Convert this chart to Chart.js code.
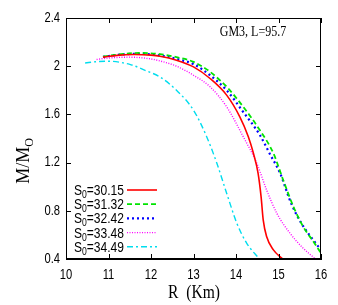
<!DOCTYPE html>
<html><head><meta charset="utf-8">
<script src="https://cdn.jsdelivr.net/npm/chart.js@4/dist/chart.umd.min.js"></script>
<style>html,body{margin:0;padding:0;background:#fff}#wrap{width:338px;height:305px}</style>
</head><body><div id="wrap"><canvas id="c" width="338" height="305"></canvas></div>
<script>
// ---- data ----
const seriesLabels = ["30.15", "31.32", "32.42", "33.48", "34.49"];
const rS3015 = [10.87,11.2,11.6,12.0,12.21,12.6,13.0,13.39,13.78,14.09,14.29,14.41,14.52,14.59,14.64,14.72,14.88,15.1];
const mS3015 = [2.075,2.09,2.097,2.092,2.083,2.05,1.994,1.898,1.76,1.58,1.415,1.277,1.111,0.918,0.725,0.586,0.476,0.40];
const rS3132 = [10.87,11.3,11.74,12.21,12.6,13.0,13.39,13.78,14.17,14.56,14.88,15.11,15.35,15.58,15.82,16.0];
const mS3132 = [2.08,2.10,2.11,2.10,2.075,2.036,1.953,1.829,1.663,1.47,1.277,1.056,0.835,0.669,0.545,0.449];
const rS3242 = [10.87,11.3,11.7,12.21,12.6,13.0,13.39,13.78,14.17,14.56,14.8,15.04,15.3,15.55,15.8,16.0];
const mS3242 = [2.078,2.097,2.103,2.09,2.06,2.017,1.925,1.80,1.62,1.43,1.27,1.11,0.86,0.69,0.565,0.476];
const rS3348 = [10.72,11.0,11.5,12.0,12.21,12.6,13.0,13.39,13.78,14.17,14.49,14.72,14.96,15.27,15.58,15.87];
const mS3348 = [2.056,2.068,2.075,2.06,2.044,2.0,1.925,1.829,1.663,1.415,1.194,0.973,0.78,0.614,0.49,0.40];
const rS3449 = [10.45,10.7,11.0,11.5,11.9,12.21,12.6,13.0,13.31,13.55,13.78,14.02,14.25,14.55];
const mS3449 = [2.027,2.037,2.041,2.015,1.96,1.911,1.80,1.635,1.415,1.194,0.946,0.697,0.532,0.40];
const xTicks = [10, 11, 12, 13, 14, 15, 16];
const yTicks = [0.4, 0.8, 1.2, 1.6, 2, 2.4];

const colors = ["#ff0000", "#00e400", "#0000ff", "#ff00ff", "#00ddee"];
const dashes = [[], [5, 3], [2, 3], [1, 1.5], [6, 3, 2, 3]];
const widths = [1.6, 1.8, 2.2, 1.4, 1.4];
const rs = [rS3015, rS3132, rS3242, rS3348, rS3449];
const ms = [mS3015, mS3132, mS3242, mS3348, mS3449];

const datasets = seriesLabels.map((lab, i) => ({
  label: "S0=" + lab,
  data: rs[i].map((r, k) => ({x: r, y: ms[i][k]})),
  borderColor: colors[i], backgroundColor: colors[i],
  borderWidth: widths[i], borderDash: dashes[i],
  pointRadius: 0, fill: false, cubicInterpolationMode: 'monotone'
}));

const SERIF = '"Liberation Serif","Times New Roman",serif';
const SANS = '"Liberation Sans",Arial,sans-serif';

const deco = {
  id: 'deco',
  afterDatasetsDraw(chart) {
    const ctx = chart.ctx, a = chart.chartArea;
    const xs = chart.scales.x, ys = chart.scales.y;
    ctx.save();
    ctx.strokeStyle = '#000'; ctx.lineWidth = 1;
    ctx.strokeRect(Math.round(a.left) + 0.5, Math.round(a.top) + 0.5, Math.round(a.right - a.left) - 1, Math.round(a.bottom - a.top) - 1);
    ctx.beginPath();
    xTicks.forEach(v => {
      const px = Math.round(xs.getPixelForValue(v)) + 0.5;
      ctx.moveTo(px, a.bottom); ctx.lineTo(px, a.bottom - 5);
      ctx.moveTo(px, a.top); ctx.lineTo(px, a.top + 5);
    });
    yTicks.forEach(v => {
      const py = Math.round(ys.getPixelForValue(v)) + 0.5;
      ctx.moveTo(a.left, py); ctx.lineTo(a.left + 5, py);
      ctx.moveTo(a.right, py); ctx.lineTo(a.right - 5, py);
    });
    ctx.stroke();

    ctx.fillStyle = '#000';
    // tick labels (condensed sans)
    ctx.font = '14px ' + SANS;
    ctx.textBaseline = 'middle';
    yTicks.forEach(v => {
      const py = ys.getPixelForValue(v);
      ctx.save(); ctx.translate(60, py); ctx.scale(0.8, 1);
      ctx.textAlign = 'right';
      ctx.fillText(String(v), 0, 0);
      ctx.restore();
    });
    xTicks.forEach(v => {
      const px = xs.getPixelForValue(v);
      ctx.save(); ctx.translate(px, 275.5); ctx.scale(0.8, 1);
      ctx.textAlign = 'center';
      ctx.fillText(String(v), 0, 0);
      ctx.restore();
    });

    // annotation
    ctx.save();
    ctx.translate(253, 36);
    ctx.scale(0.8, 1);
    ctx.font = '15px ' + SERIF;
    ctx.textAlign = 'center'; ctx.textBaseline = 'alphabetic';
    ctx.fillText('GM3, L=95.7', 0, 0);
    ctx.restore();

    // x title
    ctx.save();
    ctx.translate(194, 298);
    ctx.scale(0.82, 1);
    ctx.font = '19px ' + SERIF;
    ctx.textAlign = 'center'; ctx.textBaseline = 'alphabetic';
    ctx.fillText('R  (Km)', 0, 0);
    ctx.restore();

    // y title with subscript
    ctx.save();
    ctx.translate(29, 161);
    ctx.rotate(-Math.PI / 2);
    ctx.font = '18px ' + SERIF;
    ctx.textBaseline = 'alphabetic'; ctx.textAlign = 'left';
    const main = 'M/M';
    const w = ctx.measureText(main).width;
    ctx.font = '12px ' + SERIF;
    const ws = ctx.measureText('O').width;
    const total = w + ws;
    ctx.font = '18px ' + SERIF;
    ctx.fillText(main, -total / 2, 0);
    ctx.font = '12px ' + SERIF;
    ctx.fillText('O', -total / 2 + w, 4);
    ctx.restore();

    // legend
    const rowY = [190, 204.2, 218.4, 232.6, 246.8];
    const textRight = 124, lx0 = 127, lx1 = 157;
    const sx = 0.86;
    seriesLabels.forEach((lab, i) => {
      const y = rowY[i];
      ctx.font = '14px ' + SANS;
      const tail = '=' + lab;
      const wt = ctx.measureText(tail).width;
      const wS = ctx.measureText('S').width;
      ctx.font = '10px ' + SANS;
      const w0 = ctx.measureText('0').width;
      const tot = wt + wS + w0;
      ctx.save();
      ctx.translate(textRight, y);
      ctx.scale(sx, 1);
      ctx.textAlign = 'left'; ctx.textBaseline = 'alphabetic';
      ctx.fillStyle = '#000';
      ctx.font = '14px ' + SANS;
      ctx.fillText('S', -tot, 5);
      ctx.font = '10px ' + SANS;
      ctx.fillText('0', -tot + wS, 8);
      ctx.font = '14px ' + SANS;
      ctx.fillText(tail, -tot + wS + w0, 5);
      ctx.restore();
      ctx.strokeStyle = colors[i];
      ctx.lineWidth = widths[i];
      ctx.setLineDash(dashes[i]);
      ctx.beginPath(); ctx.moveTo(lx0, y); ctx.lineTo(lx1, y); ctx.stroke();
      ctx.setLineDash([]);
    });
    ctx.restore();
  }
};

new Chart(document.getElementById('c'), {
  type: 'line',
  data: { datasets },
  options: {
    responsive: false, animation: false, devicePixelRatio: 1,
    layout: { padding: { left: 0, right: 17, top: 18, bottom: 0 } },
    plugins: { legend: { display: false }, tooltip: { enabled: false } },
    scales: {
      x: {
        type: 'linear', min: 10, max: 16,
        afterBuildTicks: s => { s.ticks = xTicks.map(v => ({value: v})); },
        afterFit: s => { s.height = 46; },
        grid: { drawOnChartArea: false, drawTicks: false },
        border: { color: '#000', width: 1 },
        ticks: { display: false }
      },
      y: {
        type: 'linear', min: 0.4, max: 2.4,
        afterBuildTicks: s => { s.ticks = yTicks.map(v => ({value: v})); },
        afterFit: s => { s.width = 66; },
        grid: { drawOnChartArea: false, drawTicks: false },
        border: { color: '#000', width: 1 },
        ticks: { display: false }
      }
    }
  },
  plugins: [deco]
});
</script>
</body></html>
